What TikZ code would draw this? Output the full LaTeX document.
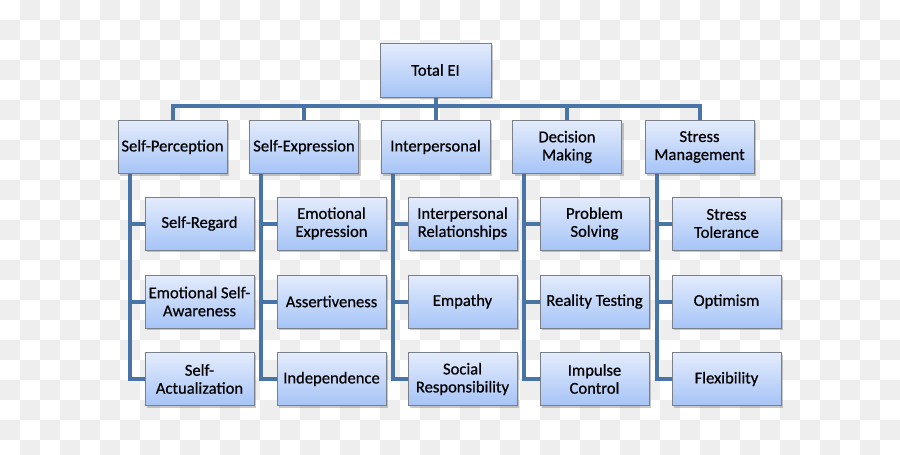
\documentclass[tikz,border=0pt]{standalone}
\usepackage{fontspec}
\setmainfont{Carlito}
\usetikzlibrary{shadows,calc}
\definecolor{checkgray}{RGB}{238,238,238}
\definecolor{linkblue}{RGB}{72,116,168}
\definecolor{boxtop}{RGB}{228,236,252}
\definecolor{boxbot}{RGB}{166,196,247}
\definecolor{boxedge}{RGB}{122,128,138}
\pgfdeclarelayer{bg}
\pgfdeclarelayer{lines}
\pgfsetlayers{bg,lines,main}
\tikzset{
  eibox/.style={rectangle, draw=boxedge, line width=0.9pt, top color=boxtop, bottom color=boxbot,
    minimum width=109pt, minimum height=53pt, inner sep=1pt, align=center,
    font=\fontsize{16.6}{18}\selectfont\addfontfeature{FakeBold=0.6}, text=black,
    drop shadow={opacity=0.35, shadow xshift=2pt, shadow yshift=-2pt, fill=black!60}},
  link/.style={draw=linkblue, line width=4pt, line join=miter}
}
\begin{document}
\begin{tikzpicture}[x=1pt,y=-1pt]
\useasboundingbox (0,0) rectangle (900,455);
\begin{pgfonlayer}{bg}
  \fill[white] (0,0) rectangle (900,455);
  \begin{scope}
    \clip (0,0) rectangle (900,455);
    \foreach \i in {0,...,44}{
      \foreach \j in {0,...,22}{
        \pgfmathtruncatemacro{\chk}{mod(\i+\j,2)}
        \ifnum\chk=1
          \fill[checkgray] (\i*20,\j*20) rectangle ++(20,20);
        \fi
      }
    }
  \end{scope}
\end{pgfonlayer}

% top
\node[eibox, minimum width=111pt, minimum height=54pt] (top) at (435.5,70) {Total EI};

% level 1
\node[eibox] (sp) at (172.5,147) {Self-Perception};
\node[eibox] (se) at (304,147) {Self-Expression};
\node[eibox] (ip) at (435.5,147) {Interpersonal};
\node[eibox] (dm) at (567,147) {Decision\\Making};
\node[eibox] (sm) at (699.5,147) {Stress\\Management};

% level 2
\node[eibox] (sp1) at (199.5,223.5) {Self-Regard};
\node[eibox] (sp2) at (199.5,301.5) {Emotional Self-\\Awareness};
\node[eibox] (sp3) at (199.5,379) {Self-\\Actualization};

\node[eibox] (se1) at (331.5,223.5) {Emotional\\Expression};
\node[eibox] (se2) at (331.5,301.5) {Assertiveness};
\node[eibox] (se3) at (331.5,379) {Independence};

\node[eibox] (ip1) at (462.5,223.5) {Interpersonal\\Relationships};
\node[eibox] (ip2) at (462.5,301.5) {Empathy};
\node[eibox] (ip3) at (462.5,379) {Social\\Responsibility};

\node[eibox] (dm1) at (594.5,223.5) {Problem\\Solving};
\node[eibox] (dm2) at (594.5,301.5) {Reality Testing};
\node[eibox] (dm3) at (594.5,379) {Impulse\\Control};

\node[eibox] (sm1) at (726.5,223.5) {Stress\\Tolerance};
\node[eibox] (sm2) at (726.5,301.5) {Optimism};
\node[eibox] (sm3) at (726.5,379) {Flexibility};

\coordinate (bus) at (435.5,106);

\begin{pgfonlayer}{lines}
  \draw[link] (top.south) -- (top.south |- bus);
  \draw[link] (sp.north) -- (sp.north |- bus) -- (sm.north |- bus) -- (sm.north);
  \draw[link] (se.north |- bus) -- (se.north);
  \draw[link] (ip.north |- bus) -- (ip.north);
  \draw[link] (dm.north |- bus) -- (dm.north);
  \foreach \p in {sp,se,ip,dm,sm}{
    \coordinate (\p l) at ($(\p.south west)+(12,0)$);
    \draw[link] (\p l) |- (\p3.west);
    \draw[link] (\p l |- \p1.west) -- (\p1.west);
    \draw[link] (\p l |- \p2.west) -- (\p2.west);
  }
\end{pgfonlayer}
\end{tikzpicture}
\end{document}
